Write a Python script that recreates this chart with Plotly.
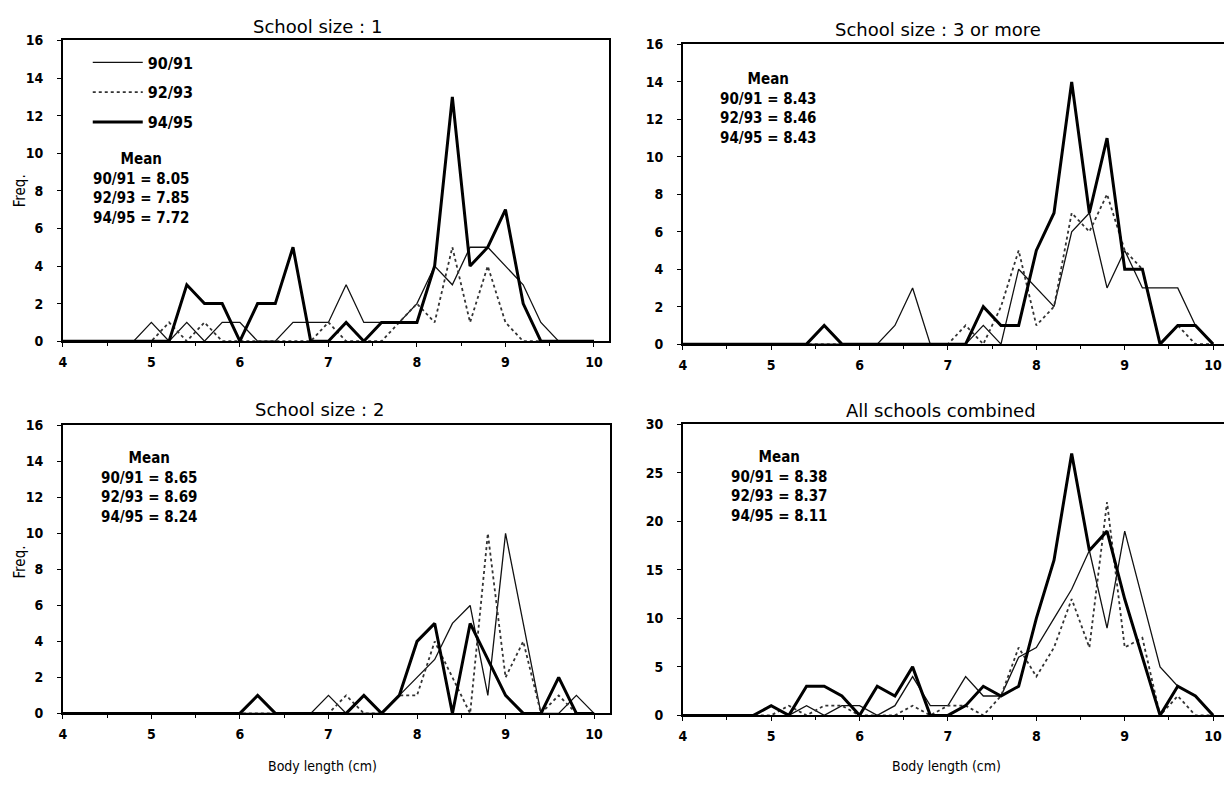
import plotly.graph_objects as go

# ---------------- data ----------------
body_length = [4.0, 4.2, 4.4, 4.6, 4.8, 5.0, 5.2, 5.4, 5.6, 5.8,
               6.0, 6.2, 6.4, 6.6, 6.8, 7.0, 7.2, 7.4, 7.6, 7.8,
               8.0, 8.2, 8.4, 8.6, 8.8, 9.0, 9.2, 9.4, 9.6, 9.8, 10.0]

seasons = ["90/91", "92/93", "94/95"]

# School size : 1
size1_9091 = [0, 0, 0, 0, 0, 1, 0, 1, 0, 1, 1, 0, 0, 1, 1, 1, 3, 1, 1, 1, 2, 4, 3, 5, 5, 4, 3, 1, 0, 0, 0]
size1_9293 = [0, 0, 0, 0, 0, 0, 1, 0, 1, 0, 0, 0, 0, 0, 0, 1, 0, 0, 0, 1, 2, 1, 5, 1, 4, 1, 0, 0, 0, 0, 0]
size1_9495 = [0, 0, 0, 0, 0, 0, 0, 3, 2, 2, 0, 2, 2, 5, 0, 0, 1, 0, 1, 1, 1, 4, 13, 4, 5, 7, 2, 0, 0, 0, 0]

# School size : 3 or more
size3_9091 = [0, 0, 0, 0, 0, 0, 0, 0, 0, 0, 0, 0, 1, 3, 0, 0, 0, 1, 0, 4, 3, 2, 6, 7, 3, 5, 3, 3, 3, 1, 0]
size3_9293 = [0, 0, 0, 0, 0, 0, 0, 0, 0, 0, 0, 0, 0, 0, 0, 0, 1, 0, 2, 5, 1, 2, 7, 6, 8, 5, 4, 0, 1, 0, 0]
size3_9495 = [0, 0, 0, 0, 0, 0, 0, 0, 1, 0, 0, 0, 0, 0, 0, 0, 0, 2, 1, 1, 5, 7, 14, 7, 11, 4, 4, 0, 1, 1, 0]

# School size : 2
size2_9091 = [0, 0, 0, 0, 0, 0, 0, 0, 0, 0, 0, 0, 0, 0, 0, 1, 0, 0, 0, 1, 2, 3, 5, 6, 1, 10, 5, 0, 0, 1, 0]
size2_9293 = [0, 0, 0, 0, 0, 0, 0, 0, 0, 0, 0, 0, 0, 0, 0, 0, 1, 0, 0, 1, 1, 4, 2, 0, 10, 2, 4, 0, 1, 0, 0]
size2_9495 = [0, 0, 0, 0, 0, 0, 0, 0, 0, 0, 0, 1, 0, 0, 0, 0, 0, 1, 0, 1, 4, 5, 0, 5, 3, 1, 0, 0, 2, 0, 0]

# All schools combined
all_9091 = [0, 0, 0, 0, 0, 1, 0, 1, 0, 1, 1, 0, 1, 4, 1, 1, 4, 2, 2, 6, 7, 10, 13, 17, 9, 19, 12, 5, 3, 2, 0]
all_9293 = [0, 0, 0, 0, 0, 0, 1, 0, 1, 1, 0, 0, 0, 1, 0, 1, 1, 0, 2, 7, 4, 7, 12, 7, 22, 7, 8, 0, 2, 0, 0]
all_9495 = [0, 0, 0, 0, 0, 1, 0, 3, 3, 2, 0, 3, 2, 5, 0, 0, 1, 3, 2, 3, 10, 16, 27, 17, 19, 12, 6, 0, 3, 2, 0]

panel_titles = ["School size : 1", "School size : 3 or more",
                "School size : 2", "All schools combined"]
means_1 = ["8.05", "7.85", "7.72"]
means_3 = ["8.43", "8.46", "8.43"]
means_2 = ["8.65", "8.69", "8.24"]
means_all = ["8.38", "8.37", "8.11"]

x_tick_vals = [4, 5, 6, 7, 8, 9, 10]
y_tick_vals_16 = [0, 2, 4, 6, 8, 10, 12, 14, 16]
y_tick_vals_30 = [0, 5, 10, 15, 20, 25, 30]

# ---------------- layout helpers ----------------
# the page body keeps its default 8px margin, so the figure is offset by 8px
OFF = 8
W, H = 1232 - OFF, 789 - OFF


def fx(px):
    return (px - OFF) / W


def fy(py):
    return 1 - (py - OFF) / H


NARROW = "Liberation Sans Narrow, DejaVu Sans Condensed, Arial Narrow, Liberation Sans, sans-serif"
REG = "DejaVu Sans, Liberation Sans, sans-serif"

line_styles = {
    "90/91": dict(color="#111111", width=1.3, dash="solid"),
    "92/93": dict(color="#333333", width=1.8, dash="dot"),
    "94/95": dict(color="#000000", width=3.0, dash="solid"),
}

panels = [
    ([size1_9091, size1_9293, size1_9495], "x", "y", True),
    ([size3_9091, size3_9293, size3_9495], "x2", "y2", False),
    ([size2_9091, size2_9293, size2_9495], "x3", "y3", False),
    ([all_9091, all_9293, all_9495], "x4", "y4", False),
]

fig = go.Figure()
for series, xa, ya, show in panels:
    for name, vals in zip(seasons, series):
        fig.add_trace(go.Scatter(
            x=body_length, y=vals, mode="lines", name=name,
            line=line_styles[name], xaxis=xa, yaxis=ya,
            showlegend=show, legendgroup=name, hoverinfo="x+y+name",
        ))

axis_common = dict(
    showline=True, linecolor="black", linewidth=1.6, mirror=True,
    ticks="outside", ticklen=4, tickwidth=1.2, tickcolor="black",
    showgrid=False, zeroline=False,
    tickfont=dict(family=NARROW, size=14, color="black", weight="bold"),
)

xaxis_common = dict(axis_common, tickvals=x_tick_vals,
                    minor=dict(dtick=0.5, tick0=4, ticks="outside", ticklen=3,
                               tickcolor="black"),
                    ticklabelstandoff=3)

boxes = {
    # panel: (x0px, x1px, ytop px, ybottom px, xmax, ymax, yticks)
    1: (59, 607, 33, 340, 10.17, 16, y_tick_vals_16),
    2: (681, 1229, 37, 343, 10.18, 16, y_tick_vals_16),
    3: (59, 608, 426, 720, 10.18, 16, y_tick_vals_16),
    4: (681, 1229, 425, 722, 10.18, 30, y_tick_vals_30),
}

layout_axes = {}
for i, (x0, x1, yt, yb, xmax, ymax, yticks) in boxes.items():
    sfx = "" if i == 1 else str(i)
    layout_axes["xaxis" + sfx] = dict(xaxis_common, domain=[fx(x0), fx(x1)],
                                      range=[4, xmax], anchor="y" + sfx)
    layout_axes["yaxis" + sfx] = dict(axis_common, domain=[fy(yb), fy(yt)],
                                      range=[0, ymax], tickvals=yticks,
                                      anchor="x" + sfx, ticklabelstandoff=11)

annotations = []
# panel titles
title_pos = [(315, 19), (937, 22), (317, 410), (940, 411)]
for t, (px, py) in zip(panel_titles, title_pos):
    annotations.append(dict(text=t, x=fx(px), y=fy(py), xref="paper", yref="paper",
                            xanchor="center", yanchor="middle", showarrow=False,
                            font=dict(family=REG, size=18, color="black")))

# mean blocks
mean_blocks = [(means_1, 137, 143), (means_3, 766, 61), (means_2, 145, 448), (means_all, 778, 447)]
for vals, cx, top in mean_blocks:
    txt = "Mean<br>" + "<br>".join(f"{s} = {v}" for s, v in zip(seasons, vals))
    annotations.append(dict(text=txt, x=fx(cx), y=fy(top), xref="paper", yref="paper",
                            xanchor="center", yanchor="top", align="center",
                            showarrow=False,
                            font=dict(family=NARROW, size=15, color="black", weight="bold")))

# axis titles
for py in (186, 565):
    annotations.append(dict(text="Freq.", x=fx(16), y=fy(py), xref="paper", yref="paper",
                            xanchor="center", yanchor="middle", textangle=-90,
                            showarrow=False, font=dict(family=NARROW, size=15, color="black")))
for px in (320, 946):
    annotations.append(dict(text="Body length (cm)", x=fx(px), y=fy(774), xref="paper",
                            yref="paper", xanchor="center", yanchor="middle",
                            showarrow=False, font=dict(family=NARROW, size=14, color="black")))

fig.update_layout(
    width=W, height=H, margin=dict(l=0, r=0, t=0, b=0),
    paper_bgcolor="white", plot_bgcolor="white",
    showlegend=True,
    legend=dict(x=fx(84), y=fy(38), xanchor="left", yanchor="top",
                bgcolor="rgba(0,0,0,0)", borderwidth=0, itemwidth=50,
                tracegroupgap=6, traceorder="grouped",
                font=dict(family=NARROW, size=16, color="black", weight="bold")),
    annotations=annotations,
    **layout_axes,
)

fig.write_html("out.html")
